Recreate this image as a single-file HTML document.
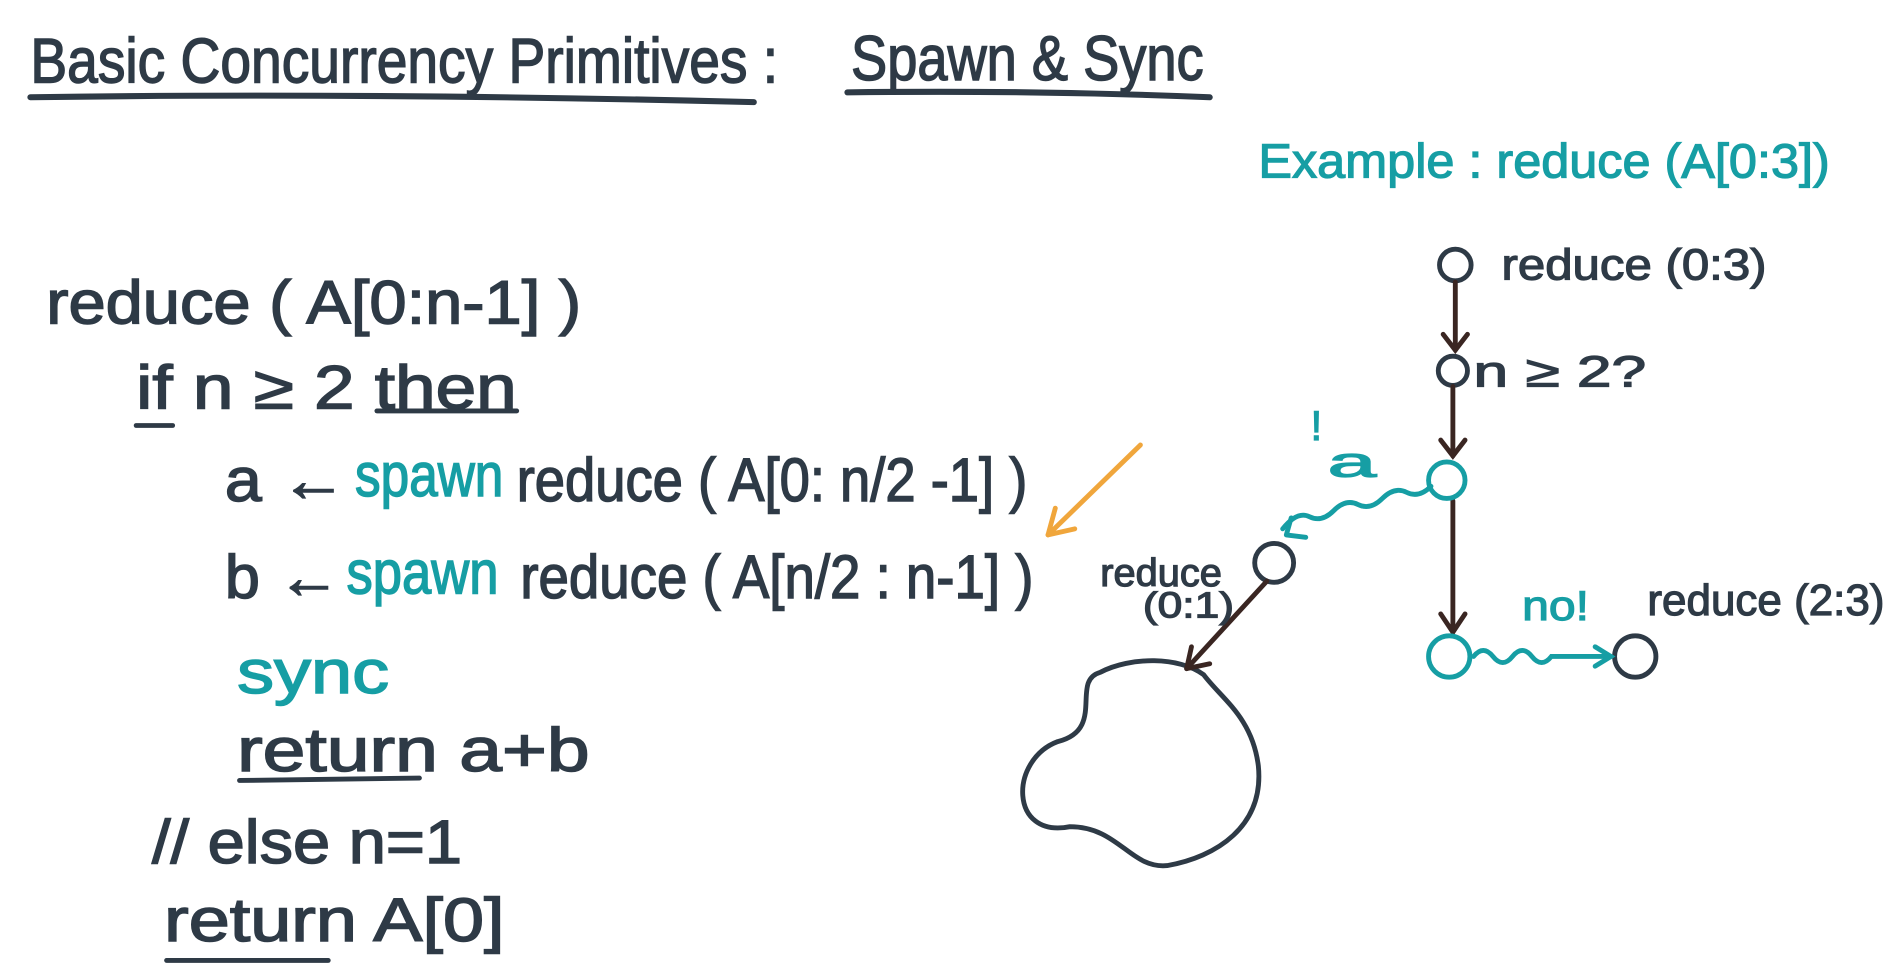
<!DOCTYPE html>
<html><head><meta charset="utf-8"><style>
html,body{margin:0;padding:0;background:#fff;}
svg{display:block}
text{font-family:"Liberation Sans",sans-serif;}
</style></head><body>
<svg width="1893" height="975" viewBox="0 0 1557 802" preserveAspectRatio="none" xmlns="http://www.w3.org/2000/svg">
<rect width="1557" height="802" fill="#fff"/>
<g fill="#2e3a46" stroke="#2e3a46" stroke-width="1.2" font-size="52">
<text x="25" y="68" textLength="615" lengthAdjust="spacingAndGlyphs">Basic Concurrency Primitives :</text>
<text x="700" y="66" textLength="290" lengthAdjust="spacingAndGlyphs">Spawn &amp; Sync</text>
</g>
<g stroke="#2e3a46" stroke-width="5" stroke-linecap="round" fill="none">
<path d="M25 80 Q300 76 620 84"/>
<path d="M697 76 Q850 74 995 80"/>
</g>
<text x="1035" y="146" font-size="40" fill="#169ea4" stroke="#169ea4" stroke-width="1" textLength="470" lengthAdjust="spacingAndGlyphs">Example : reduce (A[0:3])</text>

<g fill="#2e3a46" stroke="#2e3a46" stroke-width="1.2" font-size="50">
<text x="38" y="266" textLength="440" lengthAdjust="spacingAndGlyphs">reduce ( A[0:n-1] )</text>
<text x="112" y="336" textLength="313" lengthAdjust="spacingAndGlyphs">if n ≥ 2 then</text>
<text x="185" y="412" textLength="100" lengthAdjust="spacingAndGlyphs">a ←</text>
<text x="425" y="412" textLength="420" lengthAdjust="spacingAndGlyphs">reduce ( A[0: n/2 -1] )</text>
<text x="185" y="492" textLength="95" lengthAdjust="spacingAndGlyphs">b ←</text>
<text x="428" y="492" textLength="422" lengthAdjust="spacingAndGlyphs">reduce ( A[n/2 : n-1] )</text>
<text x="195" y="634" textLength="290" lengthAdjust="spacingAndGlyphs">return a+b</text>
<text x="125" y="710" textLength="255" lengthAdjust="spacingAndGlyphs">// else n=1</text>
<text x="135" y="774" textLength="280" lengthAdjust="spacingAndGlyphs">return A[0]</text>
</g>
<g fill="#169ea4" stroke="#169ea4" stroke-width="1.2" font-size="50">
<text x="292" y="408" textLength="122" lengthAdjust="spacingAndGlyphs">spawn</text>
<text x="285" y="488" textLength="125" lengthAdjust="spacingAndGlyphs">spawn</text>
<text x="195" y="570" textLength="125" lengthAdjust="spacingAndGlyphs">sync</text>
</g>
<g stroke="#2e3a46" stroke-width="4" stroke-linecap="round" fill="none">
<path d="M112 350 L142 350"/>
<path d="M310 338 L425 338"/>
<path d="M197 642 L345 640"/>
<path d="M137 790 L270 790"/>
</g>
<g stroke="#f0a63c" stroke-width="4" stroke-linecap="round" fill="none">
<path d="M938 366 L862 440"/><path d="M862 440 L868 418 M862 440 L884 435"/>
</g>

<g stroke="#2e3a46" stroke-width="4" fill="none">
<circle cx="1197" cy="218" r="13"/>
<circle cx="1195" cy="305" r="12"/>
<circle cx="1048" cy="463" r="16"/>
<circle cx="1345" cy="540" r="17"/>
<path d="M905 553 C880 560 910 600 870 610 C830 625 830 690 880 680 C920 680 930 715 960 712 C1000 705 1040 680 1035 630 C1030 590 1005 575 990 555 C970 540 930 540 905 553 Z"/>
</g>
<g stroke="#3a2622" stroke-width="4" stroke-linecap="round" fill="none">
<path d="M1197 232 L1197 288"/><path d="M1187 275 L1197 288 L1207 275"/>
<path d="M1195 318 L1195 375"/><path d="M1185 362 L1195 375 L1205 362"/>
<path d="M1195 412 L1195 520"/><path d="M1185 505 L1195 520 L1205 505"/>
<path d="M1042 478 L976 550"/><path d="M976 550 L980 532 M976 550 L995 546"/>
</g>
<g stroke="#169ea4" stroke-width="4" stroke-linecap="round" fill="none">
<circle cx="1190" cy="395" r="15"/>
<circle cx="1192" cy="540" r="17"/>
<path d="M1177 400 q-10 10 -20 5 q-10 -5 -20 5 q-10 10 -20 5 q-10 -5 -20 5 q-10 10 -20 5 q-10 -5 -22 10"/>
<path d="M1058 440 L1062 426 M1058 440 L1074 442"/>
<path d="M1212 540 q8 -10 16 0 q8 10 16 0 q8 -10 16 0 q8 10 16 0 L1325 540"/>
<path d="M1312 532 L1325 540 L1312 548"/>
</g>
<g fill="#169ea4" stroke="#169ea4" stroke-width="1" font-size="34">
<text x="1078" y="362">!</text>
<text x="1092" y="392" textLength="40" lengthAdjust="spacingAndGlyphs">a</text>
<text x="1252" y="510" textLength="55" lengthAdjust="spacingAndGlyphs">no!</text>
</g>
<g fill="#2e3a46" stroke="#2e3a46" stroke-width="1" font-size="36">
<text x="1235" y="230" textLength="218" lengthAdjust="spacingAndGlyphs">reduce (0:3)</text>
<text x="1212" y="318" textLength="142" lengthAdjust="spacingAndGlyphs">n ≥ 2?</text>
<text x="1355" y="506" textLength="195" lengthAdjust="spacingAndGlyphs">reduce (2:3)</text>
<text x="905" y="482" textLength="100" lengthAdjust="spacingAndGlyphs" font-size="32">reduce</text>
<text x="940" y="508" textLength="75" lengthAdjust="spacingAndGlyphs" font-size="30">(0:1)</text>
</g>
</svg>
</body></html>
